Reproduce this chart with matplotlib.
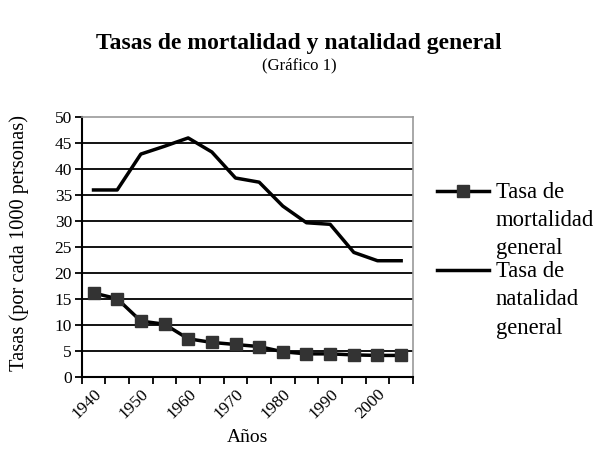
import matplotlib
matplotlib.use("Agg")
import matplotlib.pyplot as plt
import numpy as np

years = [1940, 1945, 1950, 1955, 1960, 1965, 1970, 1975, 1980, 1985, 1990, 1995, 2000, 2005]
mortalidad = [16.2, 15.1, 10.8, 10.2, 7.4, 6.7, 6.3, 5.9, 4.9, 4.5, 4.5, 4.3, 4.2, 4.2]
natalidad = [36.0, 36.0, 42.9, 44.4, 46.0, 43.3, 38.3, 37.5, 32.9, 29.7, 29.4, 24.0, 22.4, 22.4]

plt.rcParams['font.family'] = ['Liberation Serif', 'DejaVu Serif']

fig = plt.figure(figsize=(5.98, 4.54), dpi=100)
ax = fig.add_axes([0.1366, 0.169, 0.554, 0.573])

x = np.arange(len(years))
ax.plot(x, mortalidad, color='black', lw=2.5, marker='s', markersize=9,
        markerfacecolor='#333333', markeredgecolor='#333333',
        label='Tasa de\nmortalidad\ngeneral', zorder=3)
ax.plot(x, natalidad, color='black', lw=2.5, label='Tasa de\nnatalidad\ngeneral', zorder=3)

ax.set_ylim(0, 50)
ax.set_yticks(np.arange(0, 51, 5))
ax.yaxis.grid(True, color='black', lw=1.3)
ax.get_ygridlines()[-1].set_visible(False)
ax.set_axisbelow(True)
ax.tick_params(axis='y', direction='out', length=5, width=1.3, labelsize=12.5, pad=2)

ax.set_xlim(-0.5, len(years) - 0.5)
ax.set_xticks(np.arange(-0.5, len(years), 1))
ax.set_xticklabels([])
ax.tick_params(axis='x', which='major', direction='out', length=5, width=1.3)
ax.set_xticks(x[::2], minor=True)
ax.set_xticklabels([str(y) for y in years[::2]], minor=True, rotation=45,
                   ha='right', rotation_mode='anchor', fontsize=12.5)
ax.tick_params(axis='x', which='minor', length=0, pad=6)

for s in ['left', 'bottom']:
    ax.spines[s].set_linewidth(1.5)
for s in ['top', 'right']:
    ax.spines[s].set_color('#999999')
    ax.spines[s].set_linewidth(1.2)

ax.set_ylabel('Tasas (por cada 1000 personas)', fontsize=14.7)
ax.yaxis.set_label_coords(-0.16, 0.515)
ax.set_xlabel('Años', fontsize=14)
ax.xaxis.set_label_coords(0.5, -0.2)

fig.text(0.5, 0.892, 'Tasas de mortalidad y natalidad general', ha='center',
         fontsize=17, fontweight='bold')
fig.text(0.5, 0.847, '(Gráfico 1)', ha='center', fontsize=12)

leg = fig.legend(loc='upper left', bbox_to_anchor=(0.731, 0.6), frameon=False,
                 fontsize=16.3, handlelength=2.3, handleheight=1.0, handletextpad=0.3,
                 labelspacing=0.1, borderaxespad=0, borderpad=0)
for t in leg.get_texts():
    t.set_linespacing(1.45)
# put the handle next to the first line of each label
for col in leg._legend_handle_box.get_children():
    for row in col.get_children():
        row.align = 'top'

fig.savefig('out.png', dpi=100)
